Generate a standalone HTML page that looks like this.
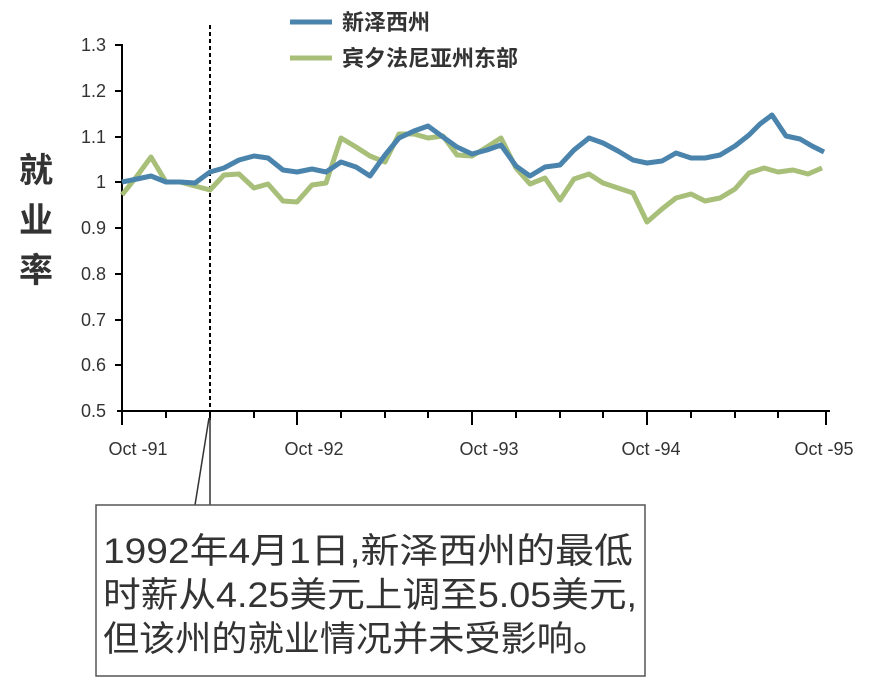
<!DOCTYPE html>
<html><head><meta charset="utf-8"><style>
body{margin:0;background:#fff;width:872px;height:680px;overflow:hidden;font-family:"Liberation Sans","Noto Sans CJK SC",sans-serif}
</style></head><body>
<svg width="872" height="680" xmlns="http://www.w3.org/2000/svg" style="position:absolute;left:0;top:0">
<g font-family="Liberation Sans, Noto Sans CJK SC, sans-serif" fill="#333">
<g font-size="18" text-anchor="end">
<text x="106" y="51">1.3</text><text x="106" y="97">1.2</text><text x="106" y="143">1.1</text><text x="106" y="188">1</text>
<text x="106" y="234">0.9</text><text x="106" y="280">0.8</text><text x="106" y="326">0.7</text><text x="106" y="371">0.6</text><text x="106" y="417">0.5</text>
</g>
<g font-size="18" text-anchor="middle">
<text x="138" y="455">Oct -91</text><text x="314" y="455">Oct -92</text><text x="489" y="455">Oct -93</text><text x="651" y="455">Oct -94</text><text x="824" y="455">Oct -95</text>
</g>
<g font-size="34" font-weight="bold" text-anchor="middle">
<text x="36" y="182">就</text><text x="36" y="232">业</text><text x="36" y="282">率</text>
</g>
<g font-size="22" font-weight="bold">
<text x="342" y="30">新泽西州</text><text x="342" y="66">宾夕法尼亚州东部</text>
</g>
</g>
<line x1="290" y1="22" x2="332" y2="22" stroke="#4a84ad" stroke-width="5"/>
<line x1="290" y1="58" x2="332" y2="58" stroke="#a8bf79" stroke-width="5"/>
<g stroke="#000" stroke-width="2">
<line x1="122" y1="44" x2="122" y2="412"/>
<line x1="117" y1="411" x2="830" y2="411"/>
<line x1="115" y1="45" x2="122" y2="45"/><line x1="115" y1="91" x2="122" y2="91"/><line x1="115" y1="137" x2="122" y2="137"/><line x1="115" y1="182" x2="122" y2="182"/><line x1="115" y1="228" x2="122" y2="228"/><line x1="115" y1="274" x2="122" y2="274"/><line x1="115" y1="320" x2="122" y2="320"/><line x1="115" y1="365" x2="122" y2="365"/>
<line x1="122" y1="411" x2="122" y2="425"/><line x1="166" y1="411" x2="166" y2="418"/><line x1="210" y1="411" x2="210" y2="418"/><line x1="254" y1="411" x2="254" y2="418"/>
<line x1="297" y1="411" x2="297" y2="425"/><line x1="341" y1="411" x2="341" y2="418"/><line x1="385" y1="411" x2="385" y2="418"/><line x1="428" y1="411" x2="428" y2="418"/>
<line x1="472" y1="411" x2="472" y2="425"/><line x1="516" y1="411" x2="516" y2="418"/><line x1="560" y1="411" x2="560" y2="418"/><line x1="603" y1="411" x2="603" y2="418"/>
<line x1="647" y1="411" x2="647" y2="425"/><line x1="691" y1="411" x2="691" y2="418"/><line x1="735" y1="411" x2="735" y2="418"/><line x1="778" y1="411" x2="778" y2="418"/>
<line x1="826" y1="411" x2="826" y2="425"/>
</g>
<line x1="210" y1="25" x2="210" y2="420" stroke="#000" stroke-width="2" stroke-dasharray="4,3"/>
<polyline fill="none" stroke="#a8bf79" stroke-width="5" stroke-linejoin="round" points="122,195 137,176 151,157 166,182 180,182 195,186 210,190 224,175 239,174 254,188 268,184 283,201 297,202 312,185 326,183 341,138 356,147 370,156 385,162 399,134 414,134 428,138 443,136 457,155 472,156 487,147 501,138 516,168 530,184 545,178 560,200 574,179 589,174 603,183 618,188 633,193 647,222 662,209 676,198 691,194 705,201 720,198 735,189 749,173 764,168 778,172 793,170 808,174 822,168"/>
<polyline fill="none" stroke="#4a84ad" stroke-width="5" stroke-linejoin="round" points="122,182 137,179 151,176 166,182 180,182 195,183 210,172 224,168 239,160 254,156 268,158 283,170 297,172 312,169 326,172 341,162 356,167 370,176 385,155 399,138 414,131 428,126 443,137 457,147 472,154 487,150 501,145 516,166 530,176 545,167 560,165 574,150 589,138 603,143 618,151 633,160 647,163 662,161 676,153 691,158 705,158 720,155 735,146 749,135 760,124 772,115 786,136 800,139 812,146 824,152"/>
<line x1="209" y1="418" x2="195" y2="505" stroke="#333" stroke-width="1.5"/>
<line x1="210" y1="418" x2="210" y2="505" stroke="#333" stroke-width="1.5"/>
<rect x="96" y="505" width="549" height="171" fill="#fff" stroke="#555" stroke-width="1.5"/>
<g font-family="Liberation Sans, Noto Sans CJK SC, sans-serif" font-size="35" fill="#333">
<text x="103" y="563" textLength="530" lengthAdjust="spacingAndGlyphs">1992年4月1日,新泽西州的最低</text>
<text x="103" y="607" textLength="534" lengthAdjust="spacingAndGlyphs">时薪从4.25美元上调至5.05美元,</text>
<text x="103" y="651" textLength="506" lengthAdjust="spacingAndGlyphs">但该州的就业情况并未受影响。</text>
</g>
</svg>
</body></html>
